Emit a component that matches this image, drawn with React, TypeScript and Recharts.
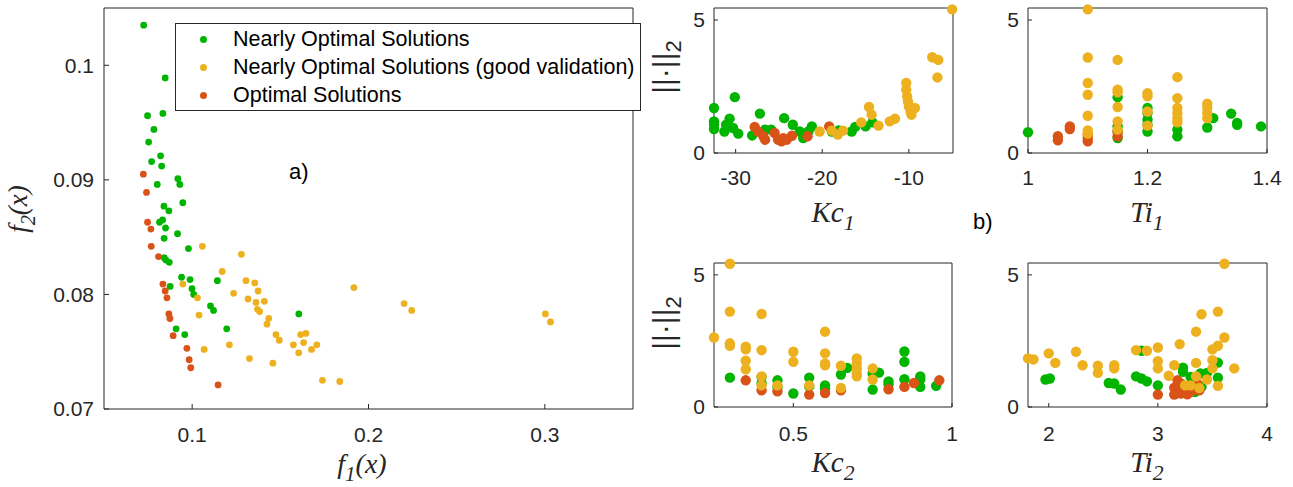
import React from 'react';
import { ScatterChart, Scatter, XAxis, YAxis, Legend } from 'recharts';

const AXIS = '#262626';
const SANS = "'Liberation Sans', Arial, Helvetica, sans-serif";
const SERIF = "'Liberation Serif', 'Times New Roman', serif";
const GREEN = '#00b400';
const ORANGE = '#edb120';
const RED = '#d95319';

type Pt = [number, number];

// ---- a) f1(x) vs f2(x) ----
const mainNear: Pt[] = [
  [0.0725, 0.1035], [0.0847, 0.0989], [0.0747, 0.0956], [0.0834, 0.0958], [0.0783, 0.0944],
  [0.0753, 0.0933], [0.0821, 0.0921], [0.077, 0.0916], [0.0827, 0.0912], [0.0919, 0.0901],
  [0.093, 0.0896], [0.0802, 0.0896], [0.0947, 0.088], [0.084, 0.0877], [0.0868, 0.0873],
  [0.0832, 0.0865], [0.0815, 0.0863], [0.0849, 0.0858], [0.0917, 0.0853], [0.0841, 0.0849],
  [0.0979, 0.084], [0.0841, 0.0832], [0.0851, 0.083], [0.087, 0.0828], [0.094, 0.0815],
  [0.0988, 0.0813], [0.1143, 0.0812], [0.0875, 0.0807], [0.0999, 0.0805], [0.1009, 0.08],
  [0.1104, 0.079], [0.1121, 0.0786], [0.1196, 0.077], [0.0909, 0.077], [0.0958, 0.0765],
  [0.1605, 0.0783],
];
const mainGood: Pt[] = [
  [0.1058, 0.0842], [0.1279, 0.0835], [0.117, 0.082], [0.0947, 0.0809], [0.1305, 0.0812],
  [0.1355, 0.081], [0.1235, 0.0801], [0.1374, 0.0803], [0.1917, 0.0806], [0.103, 0.0797],
  [0.1317, 0.0796], [0.1362, 0.0793], [0.1409, 0.0794], [0.2202, 0.0792], [0.2245, 0.0786],
  [0.3003, 0.0783], [0.3032, 0.0776], [0.137, 0.0787], [0.1383, 0.0785], [0.1434, 0.0779],
  [0.1424, 0.0774], [0.1039, 0.0782], [0.1475, 0.0765], [0.1494, 0.076], [0.1615, 0.0765],
  [0.1645, 0.0766], [0.1632, 0.0758], [0.1574, 0.0756], [0.1707, 0.0756], [0.1677, 0.0752],
  [0.1604, 0.0749], [0.1211, 0.0756], [0.1068, 0.0752], [0.1325, 0.0744], [0.1458, 0.074],
  [0.1739, 0.0725], [0.1837, 0.0724],
];
const mainOptimal: Pt[] = [
  [0.0723, 0.0905], [0.0741, 0.0889], [0.0747, 0.0863], [0.0766, 0.0857], [0.0768, 0.0842],
  [0.0809, 0.0833], [0.0834, 0.0809], [0.0847, 0.0803], [0.0857, 0.0797], [0.0868, 0.0783],
  [0.0874, 0.0779], [0.0892, 0.0764], [0.097, 0.0753], [0.0983, 0.0743], [0.0992, 0.0736],
  [0.1147, 0.0721],
];
const mainXTicks = [0.1, 0.2, 0.3];
const mainYTicks = [0.07, 0.08, 0.09, 0.1];

// ---- b) parameters vs ||.||2 ----
const normTicks = [0, 5];

const kc1Near: Pt[] = [
  [-32.5, 1.69], [-32.5, 1.19], [-32.5, 1.06], [-32.5, 0.9], [-30.1, 2.1], [-30.7, 1.29],
  [-31.3, 0.81], [-31.1, 1.06], [-30.3, 0.94], [-29.7, 0.73], [-28.1, 0.66], [-27.2, 1.48],
  [-26.6, 0.88], [-25.9, 0.88], [-24.4, 1.31], [-23.4, 1.06], [-22.6, 0.81], [-22.2, 0.56],
  [-21.2, 1.0], [-21.6, 0.81], [-18.9, 0.81], [-18.1, 0.85], [-16.6, 0.81], [-16.2, 0.98],
  [-15.0, 1.0], [-14.2, 1.15],
];
const kc1Optimal: Pt[] = [
  [-27.8, 0.98], [-27.4, 0.81], [-26.8, 0.63], [-26.6, 0.5], [-25.5, 0.75], [-25.1, 0.5],
  [-24.7, 0.44], [-24.5, 0.56], [-24.1, 0.5], [-23.5, 0.65], [-21.7, 0.63], [-19.2, 1.0],
];
const kc1Good: Pt[] = [
  [-20.3, 0.81], [-18.9, 0.84], [-18.2, 0.69], [-17.6, 0.84], [-15.5, 1.15], [-14.6, 1.73],
  [-14.3, 1.44], [-13.5, 1.03], [-12.2, 1.19], [-11.6, 1.29], [-10.3, 2.63], [-10.3, 2.38],
  [-10.2, 2.13], [-10.1, 1.94], [-10.0, 1.75], [-9.8, 1.56], [-9.7, 1.44], [-9.3, 1.69],
  [-7.3, 3.6], [-6.6, 3.5], [-6.7, 2.84], [-5.0, 5.4],
];
const kc1Ticks = [-30, -20, -10];

const ti1Near: Pt[] = [
  [1.0, 0.78], [1.15, 0.56], [1.15, 0.8], [1.15, 1.0], [1.15, 2.1], [1.2, 0.81], [1.2, 1.06],
  [1.2, 1.25], [1.2, 1.5], [1.2, 1.69], [1.25, 0.63], [1.25, 0.88], [1.3, 0.96], [1.31, 1.31],
  [1.34, 1.48], [1.35, 1.13], [1.35, 1.06], [1.39, 1.0],
];
const ti1Optimal: Pt[] = [
  [1.05, 0.63], [1.05, 0.48], [1.07, 1.0], [1.07, 0.9], [1.1, 0.56], [1.1, 0.44], [1.1, 0.69],
  [1.15, 0.63], [1.15, 0.81],
];
const ti1Good: Pt[] = [
  [1.1, 5.4], [1.1, 3.59], [1.1, 2.63], [1.1, 2.19], [1.1, 1.4], [1.1, 0.85], [1.1, 0.73],
  [1.15, 3.5], [1.15, 2.38], [1.15, 2.28], [1.15, 1.73], [1.15, 1.19], [1.15, 0.88],
  [1.2, 2.25], [1.2, 2.13], [1.2, 1.56], [1.2, 1.03], [1.25, 2.85], [1.25, 2.06], [1.25, 1.69],
  [1.25, 1.5], [1.25, 1.31], [1.25, 1.15], [1.3, 1.85], [1.3, 1.69], [1.3, 1.5], [1.3, 1.31],
];
const ti1Ticks = [1, 1.2, 1.4];

const kc2Near: Pt[] = [
  [0.3, 1.11], [0.4, 1.14], [0.4, 0.89], [0.45, 1.01], [0.45, 0.76], [0.5, 0.51], [0.55, 1.11],
  [0.55, 0.78], [0.6, 0.82], [0.6, 0.7], [0.65, 1.23], [0.67, 1.48], [0.75, 1.27], [0.75, 0.66],
  [0.77, 1.3], [0.8, 0.97], [0.8, 0.85], [0.85, 2.1], [0.85, 1.71], [0.85, 1.05], [0.9, 1.16],
  [0.9, 1.04], [0.9, 0.76], [0.95, 0.8],
];
const kc2Optimal: Pt[] = [
  [0.35, 1.01], [0.4, 0.63], [0.45, 0.59], [0.55, 0.47], [0.6, 0.53], [0.65, 0.63], [0.8, 0.67],
  [0.85, 0.76], [0.88, 0.91], [0.96, 1.01],
];
const kc2Good: Pt[] = [
  [0.25, 2.63], [0.3, 5.42], [0.3, 3.61], [0.3, 2.41], [0.3, 2.32], [0.35, 2.28], [0.35, 2.18],
  [0.35, 1.75], [0.35, 1.43], [0.4, 3.52], [0.4, 2.15], [0.4, 1.16], [0.4, 0.82], [0.45, 0.82],
  [0.5, 2.09], [0.5, 1.71], [0.55, 0.82], [0.6, 2.85], [0.6, 2.03], [0.6, 1.65], [0.6, 1.58],
  [0.65, 1.56], [0.65, 0.72], [0.7, 1.84], [0.7, 1.65], [0.7, 1.46], [0.7, 1.27], [0.7, 1.16],
  [0.75, 1.46], [0.75, 1.04],
];
const kc2Ticks = [0.5, 1];

const ti2Near: Pt[] = [
  [1.97, 1.04], [2.01, 1.08], [2.55, 0.91], [2.6, 0.89], [2.66, 0.66], [2.8, 1.16], [2.85, 1.08],
  [2.9, 0.97], [2.85, 2.13], [3.0, 0.82], [3.23, 1.49], [3.23, 1.33], [3.3, 1.14], [3.39, 1.27],
  [3.45, 1.29], [3.55, 1.68], [3.55, 1.11], [3.34, 0.57], [3.4, 0.76],
];
const ti2Optimal: Pt[] = [
  [3.0, 0.47], [3.15, 0.47], [3.15, 0.73], [3.18, 1.01], [3.21, 0.89], [3.24, 0.63], [3.27, 0.48],
  [3.3, 0.57], [3.33, 0.7], [3.36, 0.89], [3.38, 0.63], [3.21, 0.51], [3.18, 0.7],
];
const ti2Good: Pt[] = [
  [1.81, 1.84], [1.86, 1.8], [2.0, 2.03], [2.06, 1.67], [2.25, 2.09], [2.31, 1.58], [2.45, 1.56],
  [2.45, 1.29], [2.6, 1.58], [2.6, 1.46], [2.8, 2.15], [2.9, 2.13], [3.0, 2.25], [3.0, 1.73],
  [3.0, 1.46], [3.1, 1.18], [3.15, 1.58], [3.2, 2.38], [3.25, 0.82], [3.3, 0.82], [3.35, 2.85],
  [3.35, 1.67], [3.35, 1.16], [3.4, 3.51], [3.45, 1.04], [3.5, 2.18], [3.5, 1.77], [3.5, 1.46],
  [3.55, 2.32], [3.55, 3.61], [3.55, 0.8], [3.61, 5.42], [3.61, 2.63], [3.7, 1.46], [3.38, 0.72],
];
const ti2Ticks = [2, 3, 4];

const legendItems = [
  { label: 'Nearly Optimal Solutions', color: GREEN },
  { label: 'Nearly Optimal Solutions (good validation)', color: ORANGE },
  { label: 'Optimal Solutions', color: RED },
];

const rows = (pts: Pt[]) => pts.map(([x, y]) => ({ x, y }));
const dot = (color: string, r: number) => (p: any) => <circle cx={p.cx} cy={p.cy} r={r} fill={color} />;

// italic math-like title: base + subscript + tail
function Title({ px, py, base, sub, tail, size, italic = true, rotate = false, family = SERIF, subDy, subSize }: any) {
  const d = subDy ?? size * 0.3;
  return (
    <text
      x={px}
      y={py}
      textAnchor="middle"
      transform={rotate ? `rotate(-90 ${px} ${py})` : undefined}
      fontFamily={family}
      fontStyle={italic ? 'italic' : 'normal'}
      fontSize={size}
      fill={AXIS}
    >
      <tspan>{base}</tspan>
      <tspan dy={d} fontSize={subSize ?? size * 0.75}>{sub}</tspan>
      {tail ? <tspan dy={-d}>{tail}</tspan> : null}
    </text>
  );
}

const tickStyle = { fill: AXIS, fontSize: 21, fontFamily: SANS };

// box axes (MATLAB style: inward ticks on all four sides).
// top/right axes are 1px thick (recharts skips 0-size axes)
function frame(o: any) {
  return [
    <XAxis key="xb" type="number" dataKey="x" domain={o.xDomain} ticks={o.xTicks} interval={0}
      height={o.xH} tickSize={-o.tick} tickMargin={o.xMargin} axisLine={{ stroke: AXIS }}
      tickLine={{ stroke: AXIS }} tick={tickStyle} label={{ content: o.xLabel }} />,
    <XAxis key="xt" xAxisId="top" orientation="top" type="number" domain={o.xDomain} ticks={o.xTicks}
      interval={0} height={1} tickSize={-o.tick} axisLine={{ stroke: AXIS }}
      tickLine={{ stroke: AXIS }} tickFormatter={() => ''} />,
    <YAxis key="yl" type="number" dataKey="y" domain={o.yDomain} ticks={o.yTicks} interval={0}
      width={o.yW} tickSize={-o.tick} tickMargin={o.yMargin} axisLine={{ stroke: AXIS }}
      tickLine={{ stroke: AXIS }} tick={tickStyle} label={{ content: o.yLabel }} />,
    <YAxis key="yr" yAxisId="right" orientation="right" type="number" domain={o.yDomain} ticks={o.yTicks}
      interval={0} width={1} tickSize={-o.tick} axisLine={{ stroke: AXIS }}
      tickLine={{ stroke: AXIS }} tickFormatter={() => ''} />,
  ];
}

function LegendBox() {
  return (
    <div style={{
      position: 'relative', width: 466, height: 88, boxSizing: 'border-box',
      border: `1px solid ${AXIS}`, background: '#fff', fontFamily: SANS, fontSize: 21.5, color: '#000',
    }}>
      {legendItems.map((it, i) => (
        <div key={i} style={{ position: 'absolute', left: 0, top: 1 + 28 * i, height: 28, width: '100%' }}>
          <span style={{
            position: 'absolute', left: 24, top: 10.5, width: 7, height: 7,
            borderRadius: '50%', background: it.color,
          }} />
          <span style={{ position: 'absolute', left: 57, top: 0, lineHeight: '28px', whiteSpace: 'nowrap' }}>
            {it.label}
          </span>
        </div>
      ))}
    </div>
  );
}

function MainPlot() {
  return (
    <ScatterChart width={660} height={487} margin={{ top: 7, right: 26, bottom: 0, left: 0 }}>
      {frame({
        xDomain: [0.05, 0.35], xTicks: mainXTicks, yDomain: [0.07, 0.105], yTicks: mainYTicks,
        xH: 78, yW: 104, tick: 5, xMargin: 23, yMargin: 15,
        xLabel: () => <Title px={362} py={473} base="f" sub="1" tail="(x)" size={28} />,
        yLabel: () => <Title px={27} py={209} base="f" sub="2" tail="(x)" size={27} rotate />,
      })}
      <Scatter name="Nearly Optimal Solutions" data={rows(mainNear)} fill={GREEN}
        shape={dot(GREEN, 3.4)} isAnimationActive={false} />
      <Scatter name="Nearly Optimal Solutions (good validation)" data={rows(mainGood)} fill={ORANGE}
        shape={dot(ORANGE, 3.4)} isAnimationActive={false} />
      <Scatter name="Optimal Solutions" data={rows(mainOptimal)} fill={RED}
        shape={dot(RED, 3.4)} isAnimationActive={false} />
      <Legend layout="vertical" align="center" verticalAlign="middle"
        wrapperStyle={{ left: 175, top: 23, width: 466, height: 88 }} content={() => <LegendBox />} />
    </ScatterChart>
  );
}

function SmallPlot(p: any) {
  return (
    <div style={{ position: 'absolute', left: p.left, top: p.top }}>
      <ScatterChart width={p.width} height={p.height}
        margin={{ top: p.mTop - 1, right: p.mRight - 1, bottom: 0, left: 0 }}>
        {frame({
          xDomain: p.xDomain, xTicks: p.xTicks, yDomain: [0, 5.45], yTicks: normTicks,
          xH: p.xH, yW: p.yW, tick: 4, xMargin: p.xMargin, yMargin: 13,
          xLabel: () => <Title px={p.tx} py={p.ty} base={p.xName} sub={p.xSub} size={29} subDy={8} />,
          yLabel: p.showNorm
            ? () => <Title px={34} py={p.ny} base="||·||" sub="2" size={30} subSize={22} italic={false} family={SANS} rotate subDy={7} />
            : () => null,
        })}
        <Scatter data={rows(p.near)} fill={GREEN} shape={dot(GREEN, 5.2)} isAnimationActive={false} />
        <Scatter data={rows(p.opt)} fill={RED} shape={dot(RED, 5.2)} isAnimationActive={false} />
        <Scatter data={rows(p.good)} fill={ORANGE} shape={dot(ORANGE, 5.2)} isAnimationActive={false} />
      </ScatterChart>
    </div>
  );
}

export default function App() {
  return (
    <div style={{ position: 'absolute', left: 0, top: 0, width: 1293, height: 487, background: '#fff', overflow: 'hidden' }}>
      <div style={{ position: 'absolute', left: 0, top: 0 }}>
        <MainPlot />
      </div>
      <div style={{ position: 'absolute', left: 289, top: 161, fontFamily: SANS, fontSize: 22, lineHeight: 1, color: '#000' }}>a)</div>
      <div style={{ position: 'absolute', left: 973, top: 211, fontFamily: SANS, fontSize: 22, lineHeight: 1, color: '#000' }}>b)</div>

      <SmallPlot left={640} top={0} width={330} height={240} mTop={8} mRight={17} xH={87} yW={74}
        xDomain={[-32.5, -4.9]} xTicks={kc1Ticks} xMargin={21} tx={193} ty={222} xName="Kc" xSub="1"
        showNorm ny={67} near={kc1Near} opt={kc1Optimal} good={kc1Good} />
      <SmallPlot left={960} top={0} width={333} height={240} mTop={8} mRight={26} xH={87} yW={68}
        xDomain={[1, 1.4]} xTicks={ti1Ticks} xMargin={21} tx={187} ty={222} xName="Ti" xSub="1"
        near={ti1Near} opt={ti1Optimal} good={ti1Good} />
      <SmallPlot left={640} top={245} width={330} height={242} mTop={18} mRight={18} xH={80} yW={74}
        xDomain={[0.25, 1]} xTicks={kc2Ticks} xMargin={23} tx={193} ty={227} xName="Kc" xSub="2"
        showNorm ny={78} near={kc2Near} opt={kc2Optimal} good={kc2Good} />
      <SmallPlot left={960} top={245} width={333} height={242} mTop={18} mRight={26} xH={80} yW={68}
        xDomain={[1.81, 4]} xTicks={ti2Ticks} xMargin={23} tx={187} ty={227} xName="Ti" xSub="2"
        near={ti2Near} opt={ti2Optimal} good={ti2Good} />
    </div>
  );
}
